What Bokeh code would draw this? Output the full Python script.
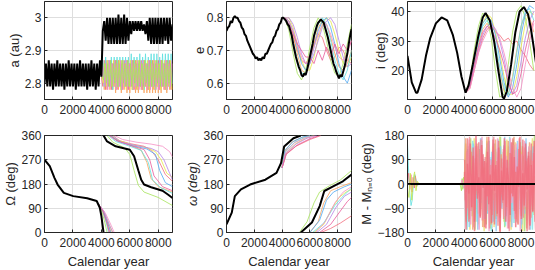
import numpy as np
from bokeh.plotting import figure
from bokeh.layouts import gridplot
from bokeh.models import Range1d, FixedTicker
from bokeh.embed import file_html
from bokeh.resources import INLINE

nan = float("nan")

# ---------------- data ----------------
X_TICKS = [0, 2000, 4000, 6000, 8000]
YR100 = list(range(0, 9001, 100))

CLONE_COLORS = ["#f26d7d", "#f7a35c", "#e6e64a", "#a6e35a", "#5fe0e0",
                "#4fa8f0", "#b784e6", "#f58fc4", "#e85a9a"]

# a (au)
A_BLACK = [2.80, 2.86, 2.79, 2.87, 2.79, 2.86, 2.78, 2.86, 2.79, 2.87,
           2.79, 2.86, 2.79, 2.86, 2.78, 2.86, 2.79, 2.87, 2.79, 2.86,
           2.79, 2.86, 2.78, 2.86, 2.79, 2.87, 2.79, 2.86, 2.79, 2.86,
           2.78, 2.86, 2.79, 2.87, 2.79, 2.86, 2.78, 2.86, 2.79, 2.87,
           2.82, 2.96, 2.99, 2.93, 3.00, 2.92, 3.00, 2.92, 3.00, 2.92,
           3.00, 2.92, 3.01, 2.92, 3.00, 2.92, 3.01, 2.92, 3.00, 2.93,
           2.99, 2.95, 2.99, 2.96, 2.99, 2.96, 2.99, 2.96, 2.99, 2.96,
           2.98, 2.95, 2.99, 2.93, 3.00, 2.92, 3.00, 2.92, 3.00, 2.92,
           3.00, 2.92, 3.00, 2.92, 3.00, 2.93, 3.00, 2.92, 3.00, 2.93,
           2.98]
A_CLONE_T0 = [4000, 4000, 4000, 4050, 4050, 4050]
A_CLONES = [
    [2.82, 2.79, 2.87, 2.78, 2.87, 2.79, 2.87, 2.78, 2.86, 2.79, 2.87, 2.78, 2.87, 2.79, 2.86, 2.78, 2.87,
     2.79, 2.87, 2.78, 2.86, 2.79, 2.87, 2.78, 2.87, 2.78, 2.86, 2.79, 2.87, 2.78, 2.87, 2.79, 2.86, 2.78,
     2.87, 2.79, 2.87, 2.78, 2.86, 2.79, 2.87, 2.78, 2.87, 2.79, 2.86, 2.78, 2.87, 2.79, 2.87, 2.78, 2.86],
    [2.82, 2.86, 2.78, 2.87, 2.78, 2.86, 2.78, 2.87, 2.78, 2.86, 2.77, 2.87, 2.78, 2.86, 2.77, 2.87, 2.78,
     2.86, 2.77, 2.87, 2.77, 2.86, 2.78, 2.87, 2.77, 2.86, 2.77, 2.87, 2.78, 2.86, 2.77, 2.87, 2.77, 2.86,
     2.77, 2.87, 2.77, 2.86, 2.77, 2.87, 2.77, 2.86, 2.77, 2.87, 2.78, 2.86, 2.77, 2.87, 2.78, 2.86, 2.78],
    [2.82, 2.87, 2.79, 2.88, 2.79, 2.87, 2.79, 2.88, 2.78, 2.88, 2.79, 2.88, 2.79, 2.88, 2.78, 2.88, 2.79,
     2.88, 2.79, 2.88, 2.79, 2.89, 2.78, 2.88, 2.79, 2.88, 2.79, 2.89, 2.79, 2.88, 2.78, 2.89, 2.79, 2.88,
     2.79, 2.89, 2.79, 2.89, 2.78, 2.89, 2.79, 2.88, 2.79, 2.89, 2.79, 2.89, 2.78, 2.89, 2.79, 2.89, 2.80],
    [2.82, 2.80, 2.86, 2.79, 2.87, 2.80, 2.86, 2.79, 2.87, 2.79, 2.86, 2.79, 2.87, 2.78, 2.87, 2.79, 2.86,
     2.78, 2.87, 2.79, 2.87, 2.78, 2.86, 2.79, 2.87, 2.78, 2.87, 2.79, 2.86, 2.78, 2.87, 2.79, 2.87, 2.78,
     2.86, 2.79, 2.87, 2.78, 2.87, 2.79, 2.86, 2.78, 2.87, 2.79, 2.87, 2.78, 2.86, 2.79, 2.87, 2.78],
    [2.82, 2.85, 2.79, 2.86, 2.78, 2.87, 2.79, 2.86, 2.79, 2.87, 2.78, 2.86, 2.79, 2.87, 2.78, 2.86, 2.79,
     2.87, 2.78, 2.86, 2.79, 2.87, 2.78, 2.86, 2.79, 2.87, 2.78, 2.86, 2.78, 2.87, 2.79, 2.86, 2.78, 2.87,
     2.78, 2.86, 2.79, 2.87, 2.78, 2.86, 2.78, 2.87, 2.79, 2.86, 2.78, 2.87, 2.78, 2.86, 2.79, 2.87],
    [2.82, 2.81, 2.86, 2.80, 2.86, 2.79, 2.87, 2.79, 2.86, 2.80, 2.87, 2.79, 2.86, 2.79, 2.87, 2.80, 2.86,
     2.79, 2.87, 2.79, 2.86, 2.79, 2.87, 2.80, 2.86, 2.79, 2.87, 2.79, 2.86, 2.79, 2.87, 2.80, 2.86, 2.79,
     2.87, 2.79, 2.86, 2.79, 2.87, 2.80, 2.86, 2.79, 2.87, 2.79, 2.86, 2.79, 2.87, 2.80, 2.86, 2.79],
]
A_CLONE_COLORS = ["#f26d7d", "#f7a35c", "#5fe0e0", "#e6e64a", "#e88ad0", "#a6e35a"]

# e
E_BLACK = [0.760, 0.770, 0.775, 0.790, 0.785, 0.800, 0.805, 0.800, 0.800, 0.790,
           0.785, 0.770, 0.765, 0.750, 0.745, 0.730, 0.720, 0.710, 0.700, 0.690,
           0.685, 0.675, 0.680, 0.670, 0.675, 0.670, 0.680, 0.675, 0.690, 0.690,
           0.700, 0.710, 0.720, 0.725, 0.740, 0.745, 0.760, 0.765, 0.780, 0.785,
           0.800, 0.800, 0.795, 0.790, 0.780, 0.775, 0.760, 0.745, 0.720, 0.700,
           0.680, 0.665, 0.650, 0.640, 0.625, 0.620, 0.630, 0.625, 0.640, 0.660,
           0.680, 0.700, 0.720, 0.745, 0.760, 0.775, 0.785, 0.790, 0.795, 0.790,
           0.785, 0.770, 0.755, 0.740, 0.720, 0.700, 0.680, 0.660, 0.650, 0.635,
           0.625, 0.615, 0.625, 0.620, 0.635, 0.650, 0.670, 0.690, 0.720, 0.745,
           0.765]
E_CLONE_YR = [4200, 4500, 4800, 5100, 5400, 5700, 6000, 6300, 6600, 6900,
              7200, 7500, 7800, 8100, 8400, 8700, 9000]
E_CLONES = [
    [0.80, 0.78, 0.74, 0.70, 0.67, 0.66, 0.68, 0.72, 0.75, 0.74, 0.70, 0.67, 0.68, 0.71, 0.70, 0.67, 0.66],
    [0.80, 0.79, 0.75, 0.69, 0.64, 0.63, 0.66, 0.72, 0.77, 0.79, 0.78, 0.74, 0.69, 0.65, 0.64, 0.66, 0.70],
    [0.80, 0.80, 0.77, 0.72, 0.67, 0.64, 0.64, 0.68, 0.74, 0.78, 0.80, 0.79, 0.75, 0.70, 0.66, 0.65, 0.68],
    [0.80, 0.76, 0.69, 0.63, 0.61, 0.64, 0.71, 0.77, 0.80, 0.78, 0.73, 0.67, 0.63, 0.62, 0.66, 0.72, 0.78],
    [0.80, 0.78, 0.73, 0.67, 0.63, 0.63, 0.68, 0.74, 0.78, 0.80, 0.78, 0.73, 0.67, 0.63, 0.61, 0.64, 0.70],
    [0.80, 0.79, 0.76, 0.71, 0.66, 0.64, 0.66, 0.71, 0.76, 0.79, 0.80, 0.77, 0.72, 0.66, 0.62, 0.60, 0.64],
    [0.80, 0.80, 0.78, 0.74, 0.69, 0.66, 0.66, 0.69, 0.73, 0.77, 0.79, 0.80, 0.78, 0.73, 0.68, 0.65, 0.66],
    [0.80, 0.79, 0.76, 0.72, 0.68, 0.66, 0.67, 0.71, 0.75, 0.78, 0.78, 0.75, 0.71, 0.68, 0.67, 0.69, 0.73],
    [0.80, 0.78, 0.75, 0.72, 0.70, 0.68, 0.68, 0.66, 0.70, 0.67, 0.71, 0.68, 0.72, 0.69, 0.72, 0.70, 0.73],
]

# i (deg)
I_BLACK_YR = [0, 300, 600, 700, 1000, 1300, 1600, 2000, 2400, 2800, 3200, 3500, 3800, 4090,
              4300, 4600, 5000, 5300, 5500, 5800, 6100, 6400, 6700, 6800, 7000, 7300, 7600,
              7900, 8200, 8500, 8700, 8920, 9100]
I_BLACK = [25, 16, 12.5, 12.5, 17, 25, 31, 36, 38, 37, 32, 26, 18, 12.5,
           15, 22, 32, 38, 39.5, 37, 30, 20, 11, 10.5, 13, 22, 33,
           40, 41.5, 39, 34, 27, 21]
I_CLONE_YR = [4100, 4400, 4700, 5000, 5300, 5600, 5900, 6200, 6500, 6800,
              7100, 7400, 7700, 8000, 8300, 8600, 8900]
I_CLONES = [
    [12.5, 14, 20, 26, 31, 34, 35, 33, 32, 30, 31, 29, 30, 27, 25, 22, 20],
    [12.5, 15, 22, 29, 34, 36, 34, 28, 20, 13, 12, 18, 27, 35, 39, 38, 33],
    [12.5, 16, 24, 31, 36, 39, 38, 33, 26, 18, 12, 12, 18, 28, 36, 40, 39],
    [12.5, 17, 27, 35, 39.5, 38, 31, 20, 11, 12, 22, 33, 40, 42, 38, 30, 20],
    [12.5, 15, 23, 30, 35, 37, 35, 29, 21, 14, 12, 17, 26, 35, 40, 41, 37],
    [12.5, 16, 24, 31, 36, 38, 37, 32, 24, 16, 11, 14, 22, 32, 39, 42, 41],
    [12.5, 15, 21, 27, 32, 35, 36, 34, 30, 24, 17, 12, 15, 23, 31, 37, 40],
    [12.5, 14, 20, 26, 30, 33, 35, 34, 31, 26, 20, 14, 11, 14, 22, 30, 36],
    [12.5, 15, 22, 28, 33, 35, 34, 31, 27, 22, 16, 12, 13, 19, 27, 33, 37],
]

# Omega (deg)
O_BLACK_YR = [0, 370, 700, 920, 1360, 2020, 3000, 3670, 3890, 4000, 4150, 4150, 4150,
              4400, 5000, 6000, 6300, 6600, 6800, 7000, 7500, 8300, 8700, 9000]
O_BLACK = [270, 246, 203, 178, 147, 135, 127, 117, 92, 61, 0, nan, 360,
           338, 320, 307, 283, 230, 196, 178, 168, 155, 140, 128]
O_CLONE_YR = [
    [3800, 4100, 4400, 4600, 4600, 4600, 5000, 6000, 7000, 7500, 8000, 8500, 9000],
    [3800, 4100, 4400, 4700, 4700, 4700, 5200, 6000, 6800, 7200, 7500, 8000, 9000],
    [3800, 4200, 4500, 4800, 4800, 4800, 5300, 6200, 7200, 7800, 8200, 8600, 9000],
    [3800, 4000, 4250, 4400, 4400, 4400, 4800, 5600, 6000, 6300, 6600, 7000, 8000, 9000],
    [3800, 4100, 4350, 4500, 4500, 4500, 5000, 6000, 6800, 7300, 7600, 8200, 9000],
    [3800, 4150, 4450, 4650, 4650, 4650, 5200, 6200, 7200, 7800, 8100, 8500, 9000],
    [3800, 4200, 4550, 4800, 4800, 4800, 5400, 6500, 7500, 8000, 8400, 8800, 9000],
    [3800, 4300, 4700, 4900, 4900, 4900, 5500, 6500, 7500, 8300, 8800, 9000],
    [3800, 4100, 4400, 4550, 4550, 4550, 5100, 6100, 7000, 7400, 7700, 8300, 9000],
]
O_CLONES = [
    [105, 80, 30, 0, nan, 360, 345, 330, 320, 305, 270, 215, 190],
    [105, 82, 40, 0, nan, 360, 340, 325, 305, 260, 200, 170, 150],
    [105, 75, 35, 0, nan, 360, 340, 325, 315, 300, 270, 220, 205],
    [105, 85, 35, 0, nan, 360, 335, 315, 290, 230, 175, 150, 130, 100],
    [105, 80, 35, 0, nan, 360, 338, 320, 305, 260, 195, 165, 145],
    [105, 78, 35, 0, nan, 360, 338, 322, 310, 290, 230, 185, 170],
    [105, 78, 30, 0, nan, 360, 335, 322, 312, 300, 270, 220, 195],
    [105, 70, 25, 0, nan, 360, 345, 335, 328, 320, 300, 280],
    [105, 80, 35, 0, nan, 360, 340, 322, 308, 270, 210, 170, 155],
]

# omega (deg)
W_BLACK_YR = [0, 380, 600, 1040, 1700, 2800, 3600, 3930, 4150, 4820, 5350, 5350, 5350,
              6150, 6710, 7040, 7710, 8380, 9000]
W_BLACK = [30, 74, 135, 160, 178, 196, 221, 258, 319, 350, 360, nan, 0,
           37, 98, 154, 172, 190, 215]
W_CLONE_YR = [
    [4000, 4300, 5000, 6000, 6800, 6800, 6800, 7500, 8200, 9000],
    [4000, 4200, 4700, 5400, 6000, 6000, 6000, 6600, 7000, 7500, 8200, 9000],
    [4000, 4300, 5000, 5700, 6300, 6300, 6300, 7000, 7600, 8100, 8600, 9000],
    [4000, 4150, 4700, 5250, 5250, 5250, 5800, 6300, 6700, 7300, 8200, 9000],
    [4000, 4250, 4900, 5600, 6200, 6200, 6200, 7000, 7800, 8300, 9000],
    [4000, 4200, 4800, 5500, 6000, 6000, 6000, 6700, 7200, 7700, 8500, 9000],
    [4000, 4300, 5000, 5800, 6500, 6500, 6500, 7200, 7900, 8500, 9000],
    [4000, 4250, 4900, 5700, 6400, 6400, 6400, 7100, 7800, 8400, 9000],
    [4000, 4300, 5100, 6000, 6700, 6700, 6700, 7500, 8200, 8700, 9000],
]
W_CLONES = [
    [240, 290, 320, 345, 360, nan, 0, 15, 35, 62],
    [240, 300, 335, 352, 360, nan, 0, 40, 110, 155, 170, 185],
    [240, 295, 330, 350, 360, nan, 0, 30, 90, 130, 150, 160],
    [240, 318, 348, 360, nan, 0, 40, 110, 150, 170, 195, 230],
    [240, 300, 335, 352, 360, nan, 0, 35, 100, 130, 165],
    [240, 305, 338, 355, 360, nan, 0, 45, 120, 150, 170, 180],
    [240, 295, 328, 350, 360, nan, 0, 30, 95, 135, 150],
    [240, 298, 333, 352, 360, nan, 0, 40, 110, 150, 170],
    [240, 292, 325, 348, 360, nan, 0, 30, 80, 115, 130],
]

# M - M_n=0 (deg)
M_BLACK_YR = [0, 9300]
M_BLACK = [0, 0]
M_EARLY_YR = [
    [0, 60, 150, 250, 330, 420, 520, 620, 720, 820],
    [0, 80, 160, 240, 320, 400, 480, 560, 640, 720, 800],
    [0, 100, 200, 300, 400, 500, 600, 700, 800],
    [3700, 3800, 3850, 3900, 3950, 4000],
    [3750, 3850, 3950, 4000],
]
M_EARLY = [
    [150, 70, -30, -80, -60, 0, 35, 10, -5, 0],
    [10, 40, -20, 35, -30, 25, -15, 30, -10, 5, 0],
    [-20, -50, 40, -60, 20, 45, -25, 10, 0],
    [0, -25, 20, -20, 25, 0],
    [0, 15, -15, 0],
]
M_EARLY_COLORS = ["#5fe0e0", "#f26d7d", "#c8e650", "#a6e35a", "#f58fc4"]
M_NOISE_T0 = [4000, 4050, 4000, 4050, 4000, 4050, 4025, 4075, 4025]
M_NOISE = [
    [0, 150, -120, 60, -170, 110, -40, 170, -90, 20, -150, 130, -60, 90, -175, 40, 160, -110, 70, -30,
     140, -160, 10, 120, -80, 175, -50, 80, -140, 30, 165, -100, 50, -170, 100, -20, 155, -130, 60, -60,
     120, -175, 20, 145, -90, 85, -150, 5, 170, -115, 65, -40, 150],
    [20, -140, 100, -60, 170, -120, 30, -170, 80, -20, 130, -90, 160, -40, 60, -150, 110, -10, -165, 90,
     -70, 150, -130, 40, -100, 175, -30, 120, -160, 70, -50, 140, -115, 15, 165, -85, 95, -145, 35, 155,
     -75, 105, -175, 50, -25, 135, -125, 75, -55, 180, -90, 60],
    [-10, 90, -170, 140, -50, 20, 160, -110, 60, -140, 110, -20, 170, -80, 30, -130, 150, -60, 100, -175,
     50, -90, 130, -40, 165, -120, 70, -10, 145, -155, 85, -65, 175, -35, 115, -145, 25, 135, -105, 55,
     -165, 95, -15, 155, -135, 45, -75, 125, -170, 65, 10, -120, 90],
    [5, -60, 130, -160, 70, -100, 150, -30, 110, -170, 40, 170, -70, 90, -130, 20, -110, 160, -50, 120,
     -140, 60, -175, 100, -20, 140, -90, 30, 175, -120, 80, -40, 150, -160, 10, 125, -80, 160, -30, 90,
     -150, 70, -110, 170, -60, 110, -170, 35, 140, -45, 160, -100],
    [-5, 170, -90, 40, -130, 120, -170, 80, -40, 150, -110, 10, 140, -160, 60, -20, 175, -100, 30, -150,
     90, -60, 165, -120, 50, -175, 110, -30, 130, -80, 20, 160, -140, 100, -50, 175, -110, 40, -150, 120,
     -10, 140, -95, 65, -165, 25, 155, -125, 85, -35, 145, -150, 40],
    [10, -110, 60, 165, -150, 30, -80, 140, -20, 100, -170, 70, 175, -130, 40, -60, 120, -175, 90, -10,
     150, -100, 20, 170, -140, 60, -40, 130, -120, 105, -165, 45, 170, -70, 80, -130, 150, -20, 60, -175,
     110, -55, 160, -85, 30, 140, -150, 90, -10, 120, -60, 170],
    [90, -30, 170, -140, 40, -90, 135, -175, 65, -10, 155, -120, 25, 110, -160, 80, -45, 175, -95, 15,
     125, -150, 55, -5, 160, -125, 95, -70, 140, -20, 60, -165, 115, -35, 170, -100, 45, -140, 130, 0,
     -120, 165, -60, 85, -175, 120, -15, 150, -105, 30, -170, 100],
    [-60, 120, -10, 175, -100, 55, -160, 95, -25, 140, -70, 165, -135, 20, 100, -45, 155, -165, 70, -115,
     175, -35, 85, -155, 125, -5, 60, -130, 160, -85, 35, -175, 110, -20, 145, -60, 10, -150, 170, -95,
     50, -125, 135, -30, 95, -170, 65, -80, 115, -140, 20, 130],
    [45, -170, 75, -35, 150, -85, 105, -140, 180, -55, 25, -125, 145, -15, 85, -165, 120, -75, 35, -145,
     165, -25, 70, -110, 135, -180, 50, -60, 170, -140, 90, 0, -115, 155, -45, 100, -160, 65, -10, 175,
     -130, 40, -80, 150, -20, 105, -155, 70, -100, 160, -30, -160],
]
M_NOISE_COLORS = ["#eee070", "#a8e070", "#7fe5e5", "#8ec8f0", "#f0a070", "#f5a0c8",
                  "#f07880", "#f28b96", "#f06c7c"]

# ---------------- layout ----------------
TXT = "#262626"
FONT = "Liberation Sans"
LEFTS = [44, 50, 47]
RIGHTS = [4, 5, 0]
FWS = [128, 125, 132]


def make(col, row, xr, yr, yticks, ylabel, overrides=None):
    if row == 0:
        top, fh, bot = 1, 98, 28
    else:
        top, fh, bot = 8, 97, 38
    p = figure(frame_width=FWS[col], frame_height=fh,
               min_border_left=LEFTS[col], min_border_right=RIGHTS[col],
               min_border_top=top, min_border_bottom=bot,
               x_range=Range1d(*xr), y_range=Range1d(*yr),
               output_backend="svg", toolbar_location=None)
    p.outline_line_color = TXT
    p.outline_line_width = 1
    p.background_fill_color = "white"
    p.border_fill_color = "white"
    p.xaxis.ticker = FixedTicker(ticks=X_TICKS)
    p.yaxis.ticker = FixedTicker(ticks=yticks)
    if overrides:
        p.yaxis.major_label_overrides = overrides
    for ax in (p.xaxis[0], p.yaxis[0]):
        ax.axis_line_color = TXT
        ax.major_tick_line_color = TXT
        ax.major_tick_in = 3
        ax.major_tick_out = 0
        ax.minor_tick_in = 0
        ax.minor_tick_out = 0
        ax.major_label_text_font = FONT
        ax.major_label_text_font_size = "12px"
        ax.major_label_text_color = TXT
        ax.axis_label_text_font = FONT
        ax.axis_label_text_font_size = "13px"
        ax.axis_label_text_font_style = "normal"
        ax.axis_label_text_color = TXT
    p.yaxis.major_label_standoff = 3
    p.yaxis.axis_label_standoff = 0
    p.xaxis.major_label_standoff = 5
    p.yaxis.axis_label = ylabel
    if row == 1:
        p.xaxis.axis_label = "Calendar year"
        p.xaxis.axis_label_standoff = 4
    p.xgrid.grid_line_color = "#dedede"
    p.ygrid.grid_line_color = "#dedede"
    return p


p1 = make(0, 0, (0, 9000), (2.75, 3.05), [2.8, 2.9, 3.0], "a (au)",
          {2.8: "2.8", 2.9: "2.9", 3: "3"})
p2 = make(1, 0, (0, 9000), (0.55, 0.85), [0.6, 0.7, 0.8], "e",
          {0.6: "0.6", 0.7: "0.7", 0.8: "0.8"})
p3 = make(2, 0, (0, 9300), (10.2, 43.4), [20, 30, 40], "i (deg)")
p4 = make(0, 1, (0, 9000), (0, 360), [0, 90, 180, 270, 360], "Ω (deg)")
p5 = make(1, 1, (0, 9000), (0, 360), [0, 90, 180, 270, 360], "ω (deg)")
p6 = make(2, 1, (0, 9300), (-180, 180), [-180, -90, 0, 90, 180], "M - Mₙ₌₀ (deg)")
p5.yaxis.axis_label_text_font_style = "italic"

CW = 1
CA = 0.8

# a
for t0, vals, c in zip(A_CLONE_T0, A_CLONES, A_CLONE_COLORS):
    xs = [t0 + 100 * k for k in range(len(vals))]
    p1.line(xs, vals, line_color=c, line_width=CW, line_alpha=CA)
p1.line(YR100, A_BLACK, line_color="black", line_width=2)

# e
for vals, c in zip(E_CLONES, CLONE_COLORS):
    p2.line(E_CLONE_YR, vals, line_color=c, line_width=CW, line_alpha=CA)
p2.line(YR100, E_BLACK, line_color="black", line_width=2)

# i
for vals, c in zip(I_CLONES, CLONE_COLORS):
    p3.line(I_CLONE_YR, vals, line_color=c, line_width=CW, line_alpha=CA)
p3.line(I_BLACK_YR, I_BLACK, line_color="black", line_width=2)

# Omega
for xs, vals, c in zip(O_CLONE_YR, O_CLONES, CLONE_COLORS):
    p4.line(np.array(xs, float), np.array(vals, float), line_color=c, line_width=CW, line_alpha=CA)
p4.line(np.array(O_BLACK_YR, float), np.array(O_BLACK, float), line_color="black", line_width=2)

# omega
for xs, vals, c in zip(W_CLONE_YR, W_CLONES, CLONE_COLORS):
    p5.line(np.array(xs, float), np.array(vals, float), line_color=c, line_width=CW, line_alpha=CA)
p5.line(np.array(W_BLACK_YR, float), np.array(W_BLACK, float), line_color="black", line_width=2)

# M
for xs, vals, c in zip(M_EARLY_YR, M_EARLY, M_EARLY_COLORS):
    p6.line(xs, vals, line_color=c, line_width=CW, line_alpha=CA)
for t0, vals, c in zip(M_NOISE_T0, M_NOISE, M_NOISE_COLORS):
    xs = [t0 + 100 * k for k in range(len(vals))]
    p6.line(xs, vals, line_color=c, line_width=1.5, line_alpha=0.8)
p6.line(M_BLACK_YR, M_BLACK, line_color="black", line_width=2)

grid = gridplot([[p1, p2, p3], [p4, p5, p6]], toolbar_location=None)

open("out.html", "w").write(file_html(grid, INLINE))
